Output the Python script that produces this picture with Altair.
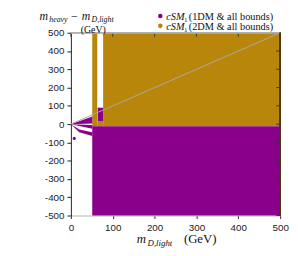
import altair as alt
import pandas as pd

PURPLE = "#8b008b"
GOLD = "#b8860b"

# ---- data (GeV) ----
purple_rect_x = [51, 64]
purple_rect_x2 = [500, 77]
purple_rect_y = [-500, 15]
purple_rect_y2 = [-12, 90]

gold_rect_x = [51, 77, 63]
gold_rect_x2 = [63, 500, 77]
gold_rect_y = [-12, -12, -12]
gold_rect_y2 = [500, 500, 15]

wedge_id = ["up", "up", "lo1", "lo1", "lo2", "lo2", "lo2"]
wedge_x = [0, 51, 0, 51, 2, 20, 51]
wedge_y = [0, 42, 0, -5, -3, -30, -45]
wedge_y2 = [0, 4, 0, -25, -5, -45, -65]

dot_x = [8]
dot_y = [-78]

diag_x = [0, 500]
diag_y = [0, 500]

x_ticks = [0, 100, 200, 300, 400, 500]
y_ticks = [-500, -400, -300, -200, -100, 0, 100, 200, 300, 400, 500]

W, H = 213, 186
xs = alt.Scale(domain=[0, 500], nice=False, zero=False)
ys = alt.Scale(domain=[-500, 500], nice=False, zero=False)


def X(f, axis=alt.Undefined):
    return alt.X(f, type="quantitative", scale=xs, axis=axis)


def Y(f, axis=alt.Undefined):
    return alt.Y(f, type="quantitative", scale=ys, axis=axis, stack=None)


rects_p = pd.DataFrame({"x": purple_rect_x, "x2": purple_rect_x2, "y": purple_rect_y, "y2": purple_rect_y2})
rects_g = pd.DataFrame({"x": gold_rect_x, "x2": gold_rect_x2, "y": gold_rect_y, "y2": gold_rect_y2})
wedges = pd.DataFrame({"id": wedge_id, "x": wedge_x, "y": wedge_y, "y2": wedge_y2})
dots = pd.DataFrame({"x": dot_x, "y": dot_y})
diag = pd.DataFrame({"x": diag_x, "y": diag_y})
xt = pd.DataFrame({"t": x_ticks})
yt = pd.DataFrame({"t": y_ticks})

label_font = "Liberation Sans"
serif = "Liberation Serif"

axis_x = alt.Axis(values=x_ticks, tickCount=len(x_ticks), labelExpr="'' + datum.value",
                  domainColor="#b0b0b0", tickSize=3, labelPadding=4)
axis_y = alt.Axis(values=y_ticks, tickCount=len(y_ticks), labelExpr="'' + datum.value",
                  domainColor="#222", tickSize=4, labelPadding=3)

g = alt.Chart(rects_g).mark_rect(color=GOLD).encode(
    x=X("x", axis_x), x2="x2", y=Y("y", axis_y), y2="y2")
p = alt.Chart(rects_p).mark_rect(color=PURPLE).encode(x=X("x"), x2="x2", y=Y("y"), y2="y2")
w = alt.Chart(wedges).mark_area(color=PURPLE, interpolate="linear").encode(
    x=X("x"), y=Y("y"), y2="y2", detail="id:N")
d = alt.Chart(dots).mark_point(filled=True, color=PURPLE, size=10, opacity=1).encode(x=X("x"), y=Y("y"))
line = alt.Chart(diag).mark_line(color="#a8a8a8", strokeWidth=1).encode(x=X("x"), y=Y("y"))

top_ticks = alt.Chart(xt).mark_rule(color="#333", strokeWidth=1).encode(
    x=X("t"), y=alt.value(0), y2=alt.value(4))
right_ticks = alt.Chart(yt).mark_rule(color="#333", strokeWidth=1).encode(
    y=Y("t"), x=alt.value(W), x2=alt.value(W - 4))
frame_top = alt.Chart(xt).mark_rule(color="#b0b0b0").encode(
    x=alt.value(0), x2=alt.value(W), y=alt.value(0))
frame_right = alt.Chart(xt).mark_rule(color="#4a3a10").encode(
    x=alt.value(W), y=alt.value(0), y2=alt.value(H))

one = pd.DataFrame({"a": [0]})


def txt(s, x, y, size, italic=False, color="#111", font=serif):
    return alt.Chart(one).mark_text(text=s, align="left", baseline="alphabetic", font=font,
                                    fontSize=size, fontStyle="italic" if italic else "normal",
                                    color=color).encode(x=alt.value(x), y=alt.value(y))


def dot(c, x, y):
    return alt.Chart(one).mark_point(filled=True, size=22, opacity=1, shape="circle", color=c).encode(
        x=alt.value(x), y=alt.value(y))


texts = [
    # y title
    txt("m", -32, -13, 12, True),
    txt("heavy", -22, -10.5, 8, True),
    txt("\u2212", 0, -13, 12),
    txt("m", 11, -13, 12, True),
    txt("D,light", 21, -10.5, 8, True),
    txt("(GeV)", 10, 0, 10),
    # x title
    txt("m", 67, 214, 13, True),
    txt("D,light", 78, 217, 9, True),
    txt("(GeV)", 115, 214, 13),
    # legend
    txt("cSM", 97, -13, 10.5, True),
    txt("1", 115, -11, 7),
    txt("(1DM & all bounds)", 120, -13, 10.5),
    txt("cSM", 97, -3, 10.5, True),
    txt("1", 115, -1, 7),
    txt("(2DM & all bounds)", 120, -3, 10.5),
    dot(PURPLE, 91, -17),
    dot(GOLD, 91, -7),
]

chart = alt.layer(g, p, w, d, line, top_ticks, right_ticks, frame_top, frame_right, *texts).properties(
    width=W, height=H,
    padding={"left": 64, "top": 23, "right": 10, "bottom": 38},
    autosize=alt.AutoSizeParams(type="none"),
).configure_view(stroke=None).configure_axis(
    grid=False, labelOverlap=False, labelFont=label_font, labelFontSize=10,
    labelColor="#222", tickColor="#222", title=None, zindex=1, labelFlush=False
)

chart.save("out.html", embed_options={"renderer": "svg", "actions": False})
